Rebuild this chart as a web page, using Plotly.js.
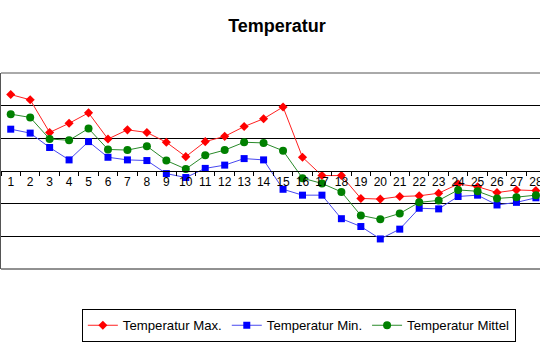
<!DOCTYPE html>
<html>
<head>
<meta charset="utf-8">
<script src="https://cdn.plot.ly/plotly-3.0.1.min.js"></script>
<style>html,body{margin:0;padding:0;background:#fff;overflow:hidden;}</style>
</head>
<body>
<div id="chart" style="width:540px;height:360px;"></div>
<script>
const days = ["1","2","3","4","5","6","7","8","9","10","11","12","13","14","15","16","17","18","19","20","21","22","23","24","25","26","27","28"];
const tMax = [11.7,10.9,5.9,7.3,8.9,4.9,6.3,5.9,4.4,2.2,4.5,5.3,6.8,8.0,9.8,2.1,-0.7,-0.7,-4.2,-4.3,-3.9,-3.8,-3.4,-2.0,-2.4,-3.3,-2.9,-3.0];
const tMin = [6.4,5.8,3.6,1.7,4.5,2.1,1.7,1.6,-0.4,-1.0,0.4,0.9,1.9,1.7,-2.8,-3.7,-3.7,-7.3,-8.5,-10.4,-8.9,-5.7,-5.8,-3.9,-3.7,-5.2,-4.8,-4.1];
const tMittel = [8.7,8.2,4.9,4.7,6.5,3.3,3.2,3.8,1.6,0.3,2.4,3.2,4.4,4.3,3.1,-1.1,-1.9,-3.2,-6.8,-7.4,-6.5,-4.8,-4.5,-2.9,-3.1,-4.2,-4.0,-3.7];
const names = ["Temperatur Max.","Temperatur Min.","Temperatur Mittel"];

const traces = [
  {x: days, y: tMax, name: names[0], type: "scatter", mode: "lines+markers",
   line: {color: "#ff2020", width: 1}, marker: {symbol: "diamond", size: 7, color: "#ff0000"}},
  {x: days, y: tMin, name: names[1], type: "scatter", mode: "lines+markers",
   line: {color: "#4848f0", width: 1}, marker: {symbol: "square", size: 7, color: "#0000ff"}},
  {x: days, y: tMittel, name: names[2], type: "scatter", mode: "lines+markers",
   line: {color: "#2a8a2a", width: 1}, marker: {symbol: "circle", size: 8, color: "#008000"}}
];

const layout = {
  width: 540, height: 360,
  margin: {l: 1, r: 0, t: 73, b: 91},
  paper_bgcolor: "#fff", plot_bgcolor: "#fff",
  font: {family: "Liberation Sans, Arial, sans-serif", size: 12, color: "#000"},
  title: {text: "<b>Temperatur</b>", x: 0.513, xanchor: "center", y: 0.928, yanchor: "middle",
          font: {size: 18, color: "#000"}},
  showlegend: true,
  legend: {orientation: "h", x: 0.150, xanchor: "left", y: -0.205, yanchor: "top",
           bordercolor: "#000", borderwidth: 1, font: {size: 13.2}, itemwidth: 30,
           tracegroupgap: 0},
  xaxis: {type: "category", range: [-0.5, 27.21], anchor: "free", position: 0.5,
          showline: true, linecolor: "#000", linewidth: 1, showgrid: false, zeroline: false,
          ticks: "outside", ticklen: 4, tickcolor: "#000", tickson: "boundaries",
          tickangle: 0, tickfont: {size: 12}, fixedrange: true},
  yaxis: {range: [-15, 15], dtick: 5, tick0: 0, showticklabels: false, ticks: "",
          showgrid: true, gridcolor: "#000", gridwidth: 1, zeroline: false,
          showline: true, linecolor: "#555", linewidth: 1, fixedrange: true},
  shapes: [
    {type: "line", xref: "paper", yref: "paper", x0: 0, x1: 1, y0: 1, y1: 1,
     line: {color: "#555", width: 1}, layer: "below"},
    {type: "line", xref: "paper", yref: "paper", x0: 0, x1: 1, y0: 0, y1: 0,
     line: {color: "#222", width: 1}, layer: "below"}
  ]
};

Plotly.newPlot("chart", traces, layout, {staticPlot: true, displayModeBar: false});
</script>
</body>
</html>
